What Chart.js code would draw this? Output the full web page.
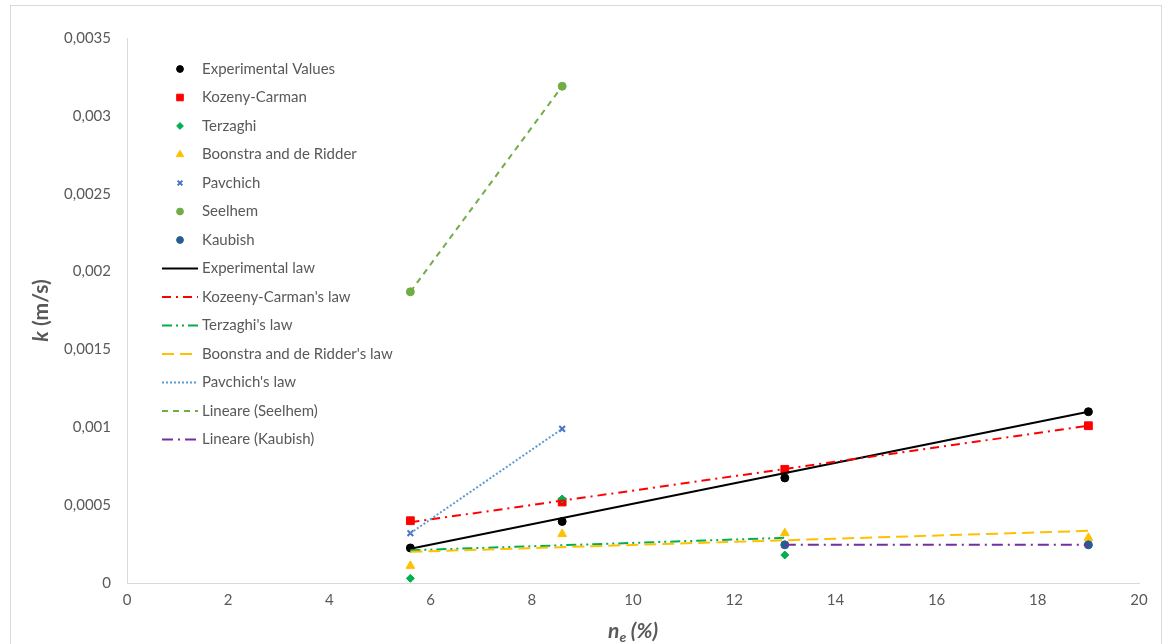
<!DOCTYPE html>
<html>
<head>
<meta charset="utf-8">
<script src="https://cdn.jsdelivr.net/npm/chart.js@4.4.1/dist/chart.umd.min.js"></script>
<style>
  body { margin: 0; background: #fff; }
  #wrap { position: relative; width: 1169px; height: 644px; overflow: hidden; }
  #frame { position: absolute; left: 10px; top: 5px; width: 1150px; height: 660px; border: 1px solid #d9d9d9; }
  #box { position: absolute; left: 0; top: 0; width: 1169px; height: 644px; }
</style>
</head>
<body>
<div id="wrap">
  <div id="frame"></div>
  <div id="box"><canvas id="chart"></canvas></div>
</div>
<script>
// porosity values (%) used by each series
const xAll = [5.6, 8.6, 13, 19];
const xFirstThree = [5.6, 8.6, 13];
const xFirstTwo = [5.6, 8.6];
const xLastTwo = [13, 19];
const xEnds = [5.6, 19];
const xTerzEnds = [5.6, 13];

// measured / computed permeabilities (m/s)
const experimental = [0.000225, 0.000395, 0.000675, 0.0011];
const kozenyCarman = [0.0004, 0.00052, 0.00073, 0.00101];
const terzaghi = [0.00003, 0.00054, 0.00018];
const boonstra = [0.00011, 0.000315, 0.00032, 0.00029];
const pavchich = [0.00032, 0.00099];
const seelhem = [0.00187, 0.00319];
const kaubish = [0.000245, 0.000245];

// trend line end points
const experimentalLaw = [0.00022, 0.0011];
const kozenyLaw = [0.00039, 0.00101];
const terzaghiLaw = [0.00021, 0.00029];
const boonstraLaw = [0.0002, 0.000335];

const xTicks = [0, 2, 4, 6, 8, 10, 12, 14, 16, 18, 20];
const yTicks = [0, 0.0005, 0.001, 0.0015, 0.002, 0.0025, 0.003, 0.0035];

const FONT = 'Lato, "Open Sans", sans-serif';
const GREY = '#595959';

function pts(xs, ys) {
  return ys.map((y, i) => ({ x: xs[i], y: y }));
}

function markers(label, xs, ys, color, style, r) {
  return {
    label: label, data: pts(xs, ys), showLine: false,
    pointStyle: style, pointRadius: r, pointHoverRadius: r,
    backgroundColor: color, borderColor: color, borderWidth: style === 'crossRot' ? 2 : 1
  };
}

function trend(label, xs, ys, color, dash, w) {
  return {
    label: label, data: pts(xs, ys), showLine: true, pointRadius: 0,
    borderColor: color, backgroundColor: color, borderWidth: w || 2,
    borderDash: dash, fill: false
  };
}

const datasets = [
  markers('Experimental Values', xAll, experimental, '#000000', 'circle', 4),
  markers('Kozeny-Carman', xAll, kozenyCarman, '#ff0000', 'rect', 5.5),
  markers('Terzaghi', xFirstThree, terzaghi, '#00b050', 'rectRot', 4),
  markers('Boonstra and de Ridder', xAll, boonstra, '#ffc000', 'triangle', 5),
  markers('Pavchich', xFirstTwo, pavchich, '#4472c4', 'crossRot', 4),
  markers('Seelhem', xFirstTwo, seelhem, '#70ad47', 'circle', 4),
  markers('Kaubish', xLastTwo, kaubish, '#255e91', 'circle', 4),
  trend('Experimental law', xEnds, experimentalLaw, '#000000', [], 2),
  trend("Kozeeny-Carman's law", xEnds, kozenyLaw, '#ff0000', [9, 5, 2, 5]),
  trend("Terzaghi's law", xTerzEnds, terzaghiLaw, '#00b050', [10, 4, 2, 4, 2, 4]),
  trend("Boonstra and de Ridder's law", xEnds, boonstraLaw, '#ffc000', [12, 6]),
  trend("Pavchich's law", xFirstTwo, pavchich, '#5b9bd5', [2, 2]),
  trend('Lineare (Seelhem)', xFirstTwo, seelhem, '#70ad47', [6, 5]),
  trend('Lineare (Kaubish)', xLastTwo, kaubish, '#7030a0', [11, 5, 2, 5])
];
// later series painted on top, as in the spreadsheet
datasets.forEach((ds, i) => { ds.order = datasets.length - i; });

// legend drawn inside the plot, like the spreadsheet one
const insideLegend = {
  id: 'insideLegend',
  afterDraw(chart) {
    const ctx = chart.ctx;
    ctx.save();
    ctx.font = '15px ' + FONT;
    ctx.textBaseline = 'middle';
    chart.data.datasets.forEach((ds, i) => {
      const y = 69 + i * 28.5;
      if (ds.showLine) {
        ctx.strokeStyle = ds.borderColor;
        ctx.lineWidth = ds.borderWidth;
        ctx.setLineDash(ds.borderDash || []);
        ctx.beginPath();
        ctx.moveTo(162, y);
        ctx.lineTo(198, y);
        ctx.stroke();
        ctx.setLineDash([]);
      } else {
        ctx.fillStyle = ds.backgroundColor;
        ctx.strokeStyle = ds.borderColor;
        ctx.lineWidth = ds.borderWidth;
        Chart.helpers.drawPoint(ctx, { pointStyle: ds.pointStyle, radius: ds.pointRadius * 0.85, rotation: 0, borderWidth: ds.borderWidth }, 180, y);
      }
      ctx.fillStyle = GREY;
      ctx.fillText(ds.label, 202, y);
    });
    ctx.restore();
  }
};

// axis titles with italic symbols and subscript
const axisTitles = {
  id: 'axisTitles',
  afterDraw(chart) {
    const ctx = chart.ctx;
    const area = chart.chartArea;
    ctx.save();
    ctx.fillStyle = GREY;
    ctx.textBaseline = 'alphabetic';

    // x title: n_e (%)
    const cx = (area.left + area.right) / 2;
    const by = 638;
    const fN = 'italic bold 21px ' + FONT;
    const fSub = 'italic bold 14px ' + FONT;
    ctx.font = fN; const wN = ctx.measureText('n').width;
    ctx.font = fSub; const wE = ctx.measureText('e').width;
    ctx.font = fN; const wR = ctx.measureText(' (%)').width;
    let x = cx - (wN + wE + wR) / 2;
    ctx.font = fN; ctx.fillText('n', x, by); x += wN;
    ctx.font = fSub; ctx.fillText('e', x, by + 4); x += wE;
    ctx.font = fN; ctx.fillText(' (%)', x, by);

    // y title: k (m/s)
    ctx.translate(48, (area.top + area.bottom) / 2);
    ctx.rotate(-Math.PI / 2);
    const fK = 'italic bold 21px ' + FONT;
    const fU = 'bold 21px ' + FONT;
    ctx.font = fK; const wK = ctx.measureText('k').width;
    ctx.font = fU; const wU = ctx.measureText(' (m/s)').width;
    let t = -(wK + wU) / 2;
    ctx.font = fK; ctx.fillText('k', t, 0); t += wK;
    ctx.font = fU; ctx.fillText(' (m/s)', t, 0);
    ctx.restore();
  }
};

new Chart(document.getElementById('chart'), {
  type: 'scatter',
  data: { datasets: datasets },
  options: {
    responsive: true,
    maintainAspectRatio: false,
    animation: false,
    layout: { padding: { left: 0, right: 30, top: 38, bottom: 0 } },
    plugins: { legend: { display: false }, tooltip: { enabled: false } },
    scales: {
      x: {
        type: 'linear', min: 0, max: 20,
        afterBuildTicks: (s) => { s.ticks = xTicks.map(v => ({ value: v })); },
        afterFit: (s) => { s.height = 61; },
        grid: { display: false, drawTicks: false },
        border: { display: true, color: '#d9d9d9', width: 1 },
        ticks: { color: GREY, font: { family: FONT, size: 15 }, padding: 8 }
      },
      y: {
        type: 'linear', min: 0, max: 0.0035,
        afterBuildTicks: (s) => { s.ticks = yTicks.map(v => ({ value: v })); },
        afterFit: (s) => { s.width = 127; },
        grid: { display: false, drawTicks: false },
        border: { display: true, color: '#d9d9d9', width: 1 },
        ticks: {
          color: GREY, font: { family: FONT, size: 15 }, padding: 16,
          callback: (v) => String(parseFloat(Number(v).toFixed(6))).replace('.', ',')
        }
      }
    }
  },
  plugins: [insideLegend, axisTitles]
});
</script>
</body>
</html>
